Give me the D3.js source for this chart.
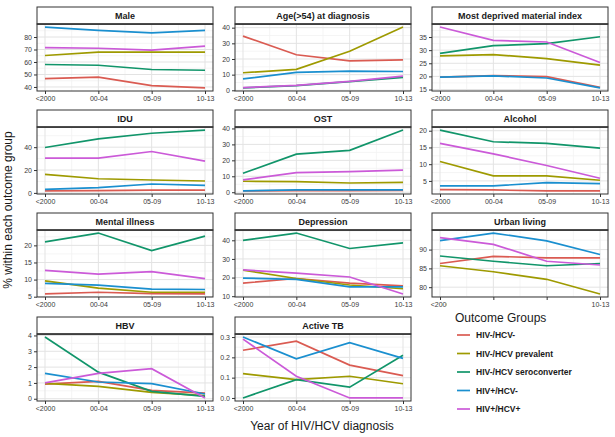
<!DOCTYPE html>
<html><head><meta charset="utf-8">
<script src="https://cdn.jsdelivr.net/npm/d3@7"></script>
<style>body{margin:0;background:#fff} text{font-family:"Liberation Sans",Arial,sans-serif}</style>
</head><body><svg id="c" width="615" height="437"></svg>
<script>
const periods = ["<2000","00-04","05-09","10-13"];
const groups = ["HIV-/HCV-","HIV-/HCV prevalent","HIV-/HCV seroconverter","HIV+/HCV-","HIV+/HCV+"];
const groupColors = ["#DA5B52","#9E9A00","#11956A","#1A8FCF","#CB5AD8"];
const panelTitles = ["Male","Age(>54) at diagnosis","Most deprived material index","IDU","OST","Alcohol","Mental illness","Depression","Urban living","HBV","Active TB"];

// values per panel: rows = groups (in order above), columns = periods
const male      = [[46.7,47.8,41.0,39.2],[65.2,67.9,67.9,67.9],[58.0,57.4,54.0,53.4],[88.0,85.4,83.3,85.4],[71.5,71.0,69.5,72.7]];
const age       = [[34.6,22.7,18.8,19.4],[11.2,13.4,24.9,40.4],[1.5,3.0,5.5,8.2],[7.3,11.4,12.3,12.0],[1.7,3.2,5.7,9.0]];
const deprived  = [[19.7,20.3,19.9,15.8],[27.8,28.3,26.8,24.3],[28.8,31.7,32.5,35.1],[19.7,20.2,19.4,15.6],[38.8,33.7,33.1,25.3]];
const idu       = [[1.7,2.0,2.5,2.5],[16.2,12.4,11.3,10.4],[39.7,47.2,52.2,55.0],[3.1,4.6,7.8,6.6],[30.4,30.4,36.2,27.8]];
const ost       = [[0.8,1.0,1.0,1.2],[6.9,6.6,5.8,6.2],[11.9,23.9,26.3,39.0],[0.8,1.5,1.5,1.5],[7.7,12.3,12.9,13.9]];
const alcohol   = [[2.4,2.3,2.0,2.0],[10.8,6.5,6.5,5.2],[20.2,16.7,16.2,14.8],[3.5,3.5,4.5,4.2],[16.2,13.1,9.6,5.8]];
const mental    = [[5.8,6.3,5.9,5.8],[9.6,7.5,6.3,6.3],[21.0,23.6,18.5,22.7],[8.9,8.4,7.2,7.1],[12.7,11.6,12.3,10.3]];
const depression= [[17.0,19.5,17.0,15.5],[24.0,19.5,16.0,14.0],[40.0,43.9,35.6,38.6],[19.7,19.0,15.0,15.0],[24.1,22.4,20.3,11.2]];
const urban     = [[86.3,88.2,87.8,87.8],[85.7,84.1,82.1,78.2],[88.3,86.9,85.7,86.3],[92.4,94.4,92.3,88.7],[93.2,91.4,86.9,85.9]];
const hbv       = [[0.93,1.1,0.53,0.35],[0.97,0.78,0.4,0.2],[3.9,1.68,0.47,0.15],[1.6,1.06,0.95,0.3],[1.0,1.6,1.9,0.05]];
const tb        = [[0.235,0.28,0.162,0.11],[0.12,0.09,0.107,0.07],[0.0,0.09,0.053,0.21],[0.30,0.193,0.272,0.195],[0.29,0.107,0.0,0.0]];
const panelValues = [male,age,deprived,idu,ost,alcohol,mental,depression,urban,hbv,tb];

const yTicks = [[40,50,60,70,80],[0,10,20,30,40],[15,20,25,30,35],[0,20,40],[0,10,20,30,40],[5,10,15,20],[5,10,15,20],[10,20,30,40],[80,85,90],[0,1,2,3,4],[0,0.1,0.2,0.3]];
const yTickLabels = [null,null,null,null,null,null,null,null,null,null,["0.0","0.1","0.2","0.3"]];

const svg = d3.select("#c");
const colLeft = [37,235,432], panelW = 176;
const rowTop = [7,110,213,317], stripH = 17, panelH = 67;

panelTitles.forEach((title, i) => {
  const col = i % 3, row = Math.floor(i / 3);
  const x0 = colLeft[col], top = rowTop[row];
  const pTop = top + stripH, pBot = pTop + panelH;
  const vals = panelValues[i];
  const all = vals.flat();
  const mn = d3.min(all), mx = d3.max(all), ex = (mx - mn) * 0.05;
  const y = d3.scaleLinear().domain([mn - ex, mx + ex]).range([pBot, pTop]);
  const xs = d3.scaleLinear().domain([0.85, 4.15]).range([x0, x0 + panelW]);
  const g = svg.append("g");
  // minor grid
  const yt = yTicks[i];
  const step = yt[1] - yt[0];
  const minors = [];
  for (let k = -1; k < yt.length; k++) { const v = yt[0] + step * (k + 0.5); if (v > y.domain()[0] && v < y.domain()[1]) minors.push(v); }
  g.selectAll(".ymin").data(minors).join("line").attr("x1", x0).attr("x2", x0 + panelW)
    .attr("y1", d => y(d)).attr("y2", d => y(d)).attr("stroke", "#F2F2F2").attr("stroke-width", 0.8);
  g.selectAll(".xmin").data([1.5,2.5,3.5]).join("line").attr("y1", pTop).attr("y2", pBot)
    .attr("x1", d => xs(d)).attr("x2", d => xs(d)).attr("stroke", "#F2F2F2").attr("stroke-width", 0.8);
  // major grid
  g.selectAll(".ymaj").data(yt).join("line").attr("x1", x0).attr("x2", x0 + panelW)
    .attr("y1", d => y(d)).attr("y2", d => y(d)).attr("stroke", "#E3E3E3").attr("stroke-width", 1);
  g.selectAll(".xmaj").data([1,2,3,4]).join("line").attr("y1", pTop).attr("y2", pBot)
    .attr("x1", d => xs(d)).attr("x2", d => xs(d)).attr("stroke", "#E3E3E3").attr("stroke-width", 1);
  // lines
  const line = d3.line().x((d, j) => xs(j + 1)).y(d => y(d));
  vals.forEach((s, k) => {
    g.append("path").attr("d", line(s)).attr("fill", "none").attr("stroke", groupColors[k]).attr("stroke-width", 1.7);
  });
  // border
  g.append("rect").attr("x", x0).attr("y", pTop).attr("width", panelW).attr("height", panelH)
    .attr("fill", "none").attr("stroke", "#333").attr("stroke-width", 1);
  // strip
  g.append("rect").attr("x", x0).attr("y", top).attr("width", panelW).attr("height", stripH)
    .attr("fill", "#fff").attr("stroke", "#333").attr("stroke-width", 1);
  g.append("line").attr("x1", x0).attr("x2", x0 + panelW).attr("y1", pTop).attr("y2", pTop).attr("stroke", "#333").attr("stroke-width", 1.5);
  g.append("text").attr("x", x0 + panelW / 2).attr("y", top + stripH / 2 + 3.2).attr("text-anchor", "middle")
    .attr("font-size", 9).attr("font-weight", "bold").attr("fill", "#1a1a1a").text(title);
  // y axis
  const ya = d3.axisLeft(y).tickValues(yt).tickSize(3).tickPadding(2)
    .tickFormat((d, j) => yTickLabels[i] ? yTickLabels[i][j] : String(d));
  const yg = g.append("g").attr("transform", `translate(${x0},0)`).call(ya);
  // x axis
  const xa = d3.axisBottom(xs).tickValues([1,2,3,4]).tickSize(3).tickPadding(2).tickFormat(d => periods[d - 1]);
  const xg = g.append("g").attr("transform", `translate(0,${pBot})`).call(xa);
  [yg, xg].forEach(a => {
    a.select(".domain").remove();
    a.selectAll("line").attr("stroke", "#333");
    a.selectAll("text").attr("font-size", 7).attr("fill", "#3a3a3a").attr("font-family", "Liberation Sans, Arial, sans-serif");
  });
});

// axis titles
svg.append("text").attr("transform", "translate(12,210) rotate(-90)").attr("text-anchor", "middle")
  .attr("font-size", 12).attr("fill", "#1a1a1a").text("% within each outcome group");
svg.append("text").attr("x", 322).attr("y", 430).attr("text-anchor", "middle")
  .attr("font-size", 12).attr("fill", "#1a1a1a").text("Year of HIV/HCV diagnosis");

// legend
const lg = svg.append("g");
lg.append("rect").attr("x", 447).attr("y", 302).attr("width", 140).attr("height", 118).attr("fill", "#fff");
lg.append("text").attr("x", 455).attr("y", 322).attr("font-size", 12).attr("fill", "#1a1a1a").text("Outcome Groups");
groups.forEach((gname, k) => {
  const yy = 335 + k * 18.5;
  lg.append("line").attr("x1", 457).attr("x2", 470).attr("y1", yy).attr("y2", yy).attr("stroke", groupColors[k]).attr("stroke-width", 1.7);
  lg.append("text").attr("x", 476).attr("y", yy + 3).attr("font-size", 8.5).attr("font-weight", "bold").attr("fill", "#1a1a1a").text(gname);
});
</script></body></html>
